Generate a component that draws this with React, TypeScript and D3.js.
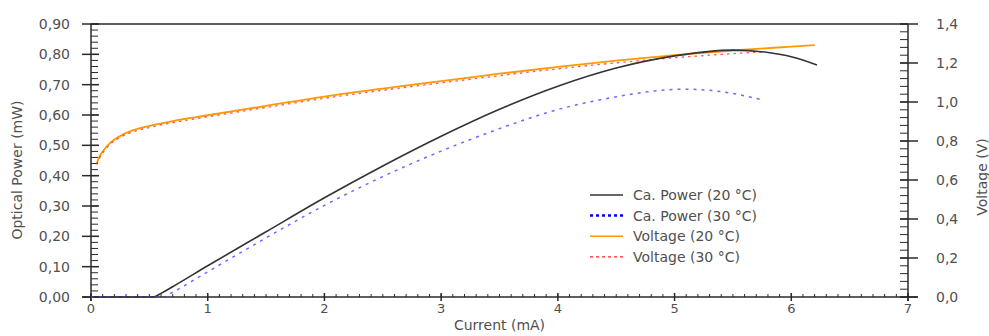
import React from "react";
import * as d3 from "d3";

const xTicks = [0, 1, 2, 3, 4, 5, 6, 7];
const leftTicks = [0, 0.1, 0.2, 0.3, 0.4, 0.5, 0.6, 0.7, 0.8, 0.9];
const rightTicks = [0, 0.2, 0.4, 0.6, 0.8, 1.0, 1.2, 1.4];

const currentP20 = [0, 0.3, 0.53, 0.6, 0.7, 1.0, 1.5, 2.0, 2.5, 3.0, 3.5, 4.0, 4.5, 5.0, 5.5, 5.8, 6.0, 6.22];
const powerP20 = [0, 0, 0, 0.012, 0.034, 0.103, 0.215, 0.327, 0.432, 0.53, 0.619, 0.695, 0.755, 0.795, 0.814, 0.806, 0.792, 0.765];

const currentP30 = [0, 0.3, 0.62, 0.7, 1.0, 1.5, 2.0, 2.5, 3.0, 3.5, 4.0, 4.5, 4.8, 5.1, 5.4, 5.76];
const powerP30 = [0, 0, 0, 0.016, 0.083, 0.195, 0.302, 0.397, 0.481, 0.555, 0.618, 0.66, 0.678, 0.685, 0.677, 0.649];

const currentV20 = [0.05, 0.08, 0.11, 0.16, 0.25, 0.35, 0.5, 0.7, 1.0, 1.5, 2.0, 2.5, 3.0, 3.5, 4.0, 4.5, 5.0, 5.5, 6.0, 6.2];
const voltageV20 = [0.686, 0.728, 0.754, 0.788, 0.826, 0.853, 0.877, 0.902, 0.932, 0.98, 1.028, 1.069, 1.107, 1.145, 1.18, 1.212, 1.24, 1.264, 1.284, 1.292];

const currentV30 = [0.05, 0.08, 0.11, 0.16, 0.25, 0.35, 0.5, 0.7, 1.0, 1.5, 2.0, 2.5, 3.0, 3.5, 4.0, 4.5, 5.0, 5.5, 5.77];
const voltageV30 = [0.68, 0.721, 0.747, 0.781, 0.818, 0.845, 0.869, 0.894, 0.924, 0.972, 1.019, 1.06, 1.098, 1.135, 1.17, 1.201, 1.227, 1.248, 1.258];

const legendLabels = ["Ca. Power (20 °C)", "Ca. Power (30 °C)", "Voltage (20 °C)", "Voltage (30 °C)"];

const W = 989;
const H = 336;
const L = 91;
const R = 908;
const T = 24;
const B = 297;
const FONT = "DejaVu Sans, Verdana, sans-serif";
const TEXT = "#505050";
const AX = "#2a2a2a";

const comma = (f: string) => (v: number) => d3.format(f)(v).replace(".", ",");

export default function App() {
  const x = d3.scaleLinear().domain([0, 7]).range([L, R]);
  const yL = d3.scaleLinear().domain([0, 0.9]).range([B, T]);
  const yR = d3.scaleLinear().domain([0, 1.4]).range([B, T]);

  const lineL = d3
    .line<[number, number]>()
    .x((d) => x(d[0]))
    .y((d) => yL(d[1]))
    .curve(d3.curveMonotoneX);
  const lineR = d3
    .line<[number, number]>()
    .x((d) => x(d[0]))
    .y((d) => yR(d[1]))
    .curve(d3.curveMonotoneX);

  const zip = (a: number[], b: number[]) => a.map((v, i) => [v, b[i]] as [number, number]);

  const xMinor = d3.range(0, 70.5, 1).map((v) => v / 10);
  const lMinor = d3.range(0, 45.5, 1).map((v) => v / 50);
  const rMinor = d3.range(0, 35.5, 1).map((v) => (v * 4) / 100);

  const legendStyles = [
    { stroke: "#333333", dash: undefined as string | undefined, w: 1.5 },
    { stroke: "#0000ff", dash: "3,3", w: 2.5 },
    { stroke: "#ff9900", dash: undefined, w: 1.5 },
    { stroke: "#ff2020", dash: "3,3", w: 1.2 },
  ];

  return (
    <svg
      width={W}
      height={H}
      style={{ position: "absolute", left: 0, top: 0, display: "block", background: "#fff" }}
      fontFamily={FONT}
    >
      {/* frame */}
      <line x1={L} x2={R} y1={T} y2={T} stroke={AX} strokeWidth={1.5} />
      <line x1={L - 9} x2={R + 10} y1={B} y2={B} stroke={AX} strokeWidth={1.5} />
      <line x1={L} x2={L} y1={T} y2={B + 4} stroke={AX} strokeWidth={1.5} />
      <line x1={R} x2={R} y1={T} y2={B + 4} stroke={AX} strokeWidth={1.5} />

      {/* left axis ticks */}
      {lMinor.map((v, i) => (
        <line key={"lm" + i} x1={L} x2={L + 7} y1={yL(v)} y2={yL(v)} stroke={AX} strokeWidth={1} />
      ))}
      {leftTicks.map((v) => (
        <g key={"lt" + v}>
          <line x1={L - 9} x2={L + 8} y1={yL(v)} y2={yL(v)} stroke={AX} strokeWidth={1.5} />
          <text x={70} y={yL(v)} dy="0.35em" textAnchor="end" fontSize={14} fill={TEXT}>
            {comma(".2f")(v)}
          </text>
        </g>
      ))}

      {/* right axis ticks */}
      {rMinor.map((v, i) => (
        <line key={"rm" + i} x1={R - 8} x2={R} y1={yR(v)} y2={yR(v)} stroke={AX} strokeWidth={1} />
      ))}
      {rightTicks.map((v) => (
        <g key={"rt" + v}>
          <line x1={R - 8} x2={R + 10} y1={yR(v)} y2={yR(v)} stroke={AX} strokeWidth={1.5} />
          <text x={936} y={yR(v)} dy="0.35em" textAnchor="start" fontSize={14} fill={TEXT}>
            {comma(".1f")(v)}
          </text>
        </g>
      ))}

      {/* x axis ticks */}
      {xMinor.map((v, i) => (
        <line key={"xm" + i} x1={x(v)} x2={x(v)} y1={B} y2={B - 3} stroke={AX} strokeWidth={1} />
      ))}
      {xTicks.map((v) => (
        <g key={"xt" + v}>
          <line x1={x(v)} x2={x(v)} y1={B - 4} y2={B + 4} stroke={AX} strokeWidth={1.5} />
          <text x={x(v)} y={313} textAnchor="middle" fontSize={13} fill={TEXT}>
            {String(v)}
          </text>
        </g>
      ))}

      {/* curves */}
      <path d={lineR(zip(currentV20, voltageV20)) || ""} fill="none" stroke="#ff9900" strokeWidth={1.8} />
      <path
        d={lineR(zip(currentV30, voltageV30)) || ""}
        fill="none"
        stroke="#ff2020"
        strokeWidth={1.3}
        strokeDasharray="2.5,4"
        opacity={0.75}
      />
      <path d={lineL(zip(currentP20, powerP20)) || ""} fill="none" stroke="#333333" strokeWidth={1.6} />
      <path
        d={lineL(zip(currentP30, powerP30)) || ""}
        fill="none"
        stroke="#3a3aff"
        strokeWidth={1.5}
        strokeDasharray="3,5"
        opacity={0.75}
      />

      {/* axis titles */}
      <text x={(L + R) / 2} y={330} textAnchor="middle" fontSize={14} fill={TEXT}>
        Current (mA)
      </text>
      <text transform={`translate(22,170) rotate(-90)`} textAnchor="middle" fontSize={14} fill={TEXT}>
        Optical Power (mW)
      </text>
      <text transform={`translate(987,177) rotate(-90)`} textAnchor="middle" fontSize={14} fill={TEXT}>
        Voltage (V)
      </text>

      {/* legend */}
      {legendLabels.map((lab, i) => {
        const y = 195 + i * 20.6;
        const s = legendStyles[i];
        return (
          <g key={lab}>
            <line x1={590} x2={623} y1={y} y2={y} stroke={s.stroke} strokeWidth={s.w} strokeDasharray={s.dash} />
            <text x={633} y={y} dy="0.35em" fontSize={14} fill={TEXT}>
              {lab}
            </text>
          </g>
        );
      })}
    </svg>
  );
}
